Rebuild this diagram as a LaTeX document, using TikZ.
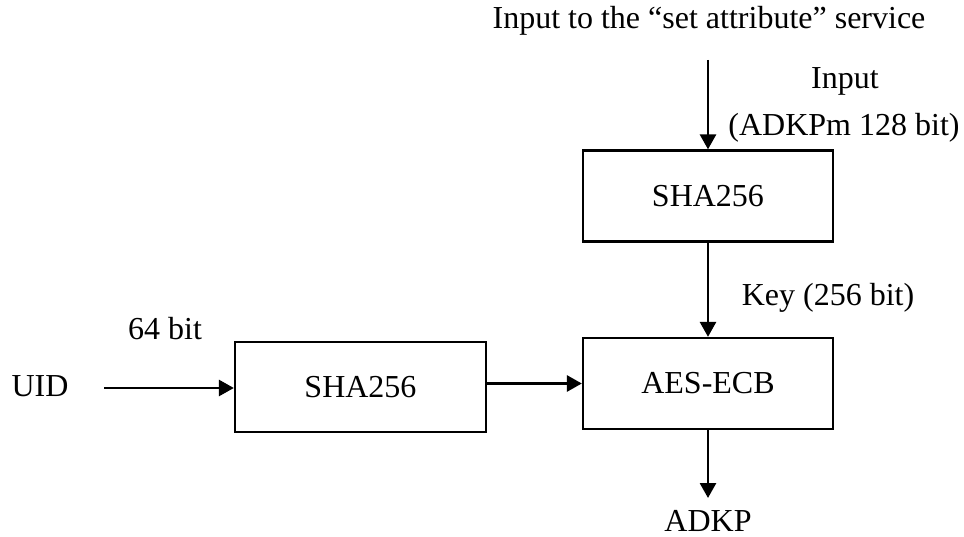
\documentclass[tikz,border=0pt]{standalone}
\usepackage{fontspec}
\setmainfont{Liberation Serif}
\usetikzlibrary{arrows.meta}
\begin{document}
\begin{tikzpicture}[x=1pt,y=-1pt,
  box/.style={draw,line width=2.3pt,minimum width=250pt,minimum height=91pt,inner sep=0pt,font=\fontsize{32}{38}\selectfont},
  lbl/.style={inner sep=0pt,font=\fontsize{32}{38}\selectfont},
  arr/.style={line width=2.8pt,-{Triangle[length=15pt,width=16pt]}}]
\useasboundingbox (0,0) rectangle (964,537);
\node[box] (top) at (708,196) {SHA256};
\node[box] (aes) at (708,383.5) {AES-ECB};
\node[box,minimum width=251pt,minimum height=90pt] (lsha) at (360.5,387) {SHA256};
\node[lbl] (title) at (709,21) {Input to the “set attribute” service};
\node[lbl] (inp) at (845,81) {Input};
\node[lbl] (adkpm) at (844,128) {(ADKPm 128 bit)};
\node[lbl] (key) at (828,298) {Key (256 bit)};
\node[lbl] (uid) at (40,386) {UID};
\node[lbl] (bits) at (165,329) {64 bit};
\node[lbl] (adkp) at (708,521) {ADKP};
\coordinate (inStart) at (708,60);
\coordinate (uidStart) at (104,388);
\coordinate (outEnd) at (708,498);
\draw[arr] (inStart) -- (top.north);
\draw[arr] (top.south) -- (aes.north);
\draw[arr] (uidStart) -- (uidStart -| lsha.west);
\draw[arr] (lsha.east |- aes.west) -- (aes.west);
\draw[arr] (aes.south) -- (outEnd);
\end{tikzpicture}
\end{document}
